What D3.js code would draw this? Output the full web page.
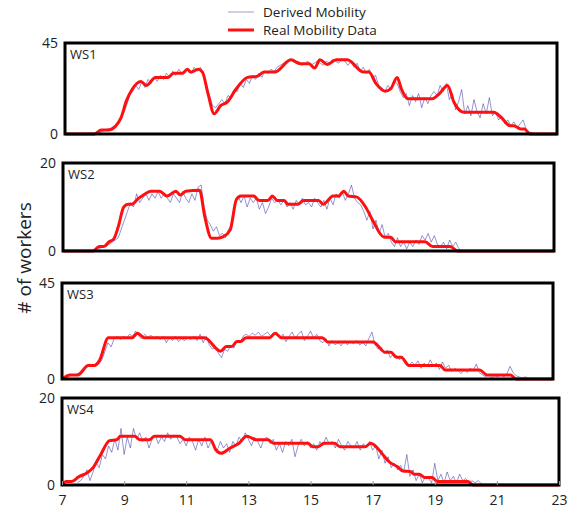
<!DOCTYPE html>
<html>
<head>
<meta charset="utf-8">
<script src="https://cdn.jsdelivr.net/npm/d3@7"></script>
<style>
  body { margin: 0; background: #fff; }
  text { font-family: "Open Sans", "Noto Sans", sans-serif; fill: #222; }
</style>
</head>
<body>
<svg id="chart" width="568" height="512"></svg>
<script>
// panel names and y maxima
const panelNames = ["WS1", "WS2", "WS3", "WS4"];
const panelMax = [45, 20, 45, 20];
const xTicks = [7, 9, 11, 13, 15, 17, 19, 21, 23];
const legendLabels = ["Derived Mobility", "Real Mobility Data"];

// real mobility data (red), hour / workers
const realHours1 = [7, 7.96, 8.18, 8.41, 8.65, 8.82, 9.0, 9.18, 9.47, 9.65, 9.94, 10.35, 10.53, 10.82, 10.98, 11.09, 11.33, 11.47, 11.65, 11.85, 12.06, 12.29, 12.53, 12.94, 13.24, 13.47, 13.82, 14.35, 14.65, 14.94, 15.12, 15.29, 15.53, 15.82, 16.18, 16.71, 16.88, 17.12, 17.41, 17.59, 17.8, 17.94, 18.15, 18.94, 19.18, 19.44, 19.65, 19.98, 20.94, 21.18, 21.47, 21.59, 21.82, 21.94, 22.12, 23];
const realValues1 = [0, 0, 2, 2, 4, 8, 16.5, 22, 26, 24, 28, 28, 30, 30, 32, 30.6, 32, 30.6, 20, 10, 14, 16, 21.5, 28, 28.5, 30.6, 30.6, 36.7, 34.7, 34.7, 32.6, 36.7, 34.4, 36.7, 36.7, 30.6, 30.6, 24.8, 21.2, 22.3, 28, 22.3, 17.4, 17.4, 20, 24, 15.7, 10.7, 10.7, 8.3, 4.1, 4.1, 2.5, 2.5, 0, 0];

const realHours2 = [7, 7.98, 8.18, 8.33, 8.5, 8.65, 8.8, 8.98, 9.12, 9.24, 9.45, 9.62, 9.86, 10.15, 10.39, 10.68, 10.82, 11.0, 11.45, 11.62, 11.84, 12.04, 12.21, 12.45, 12.65, 12.8, 13.21, 13.39, 13.68, 13.82, 13.98, 14.21, 14.33, 14.65, 14.84, 15.33, 15.48, 15.8, 15.98, 16.15, 16.29, 16.56, 16.86, 17.09, 17.45, 17.68, 17.84, 18.8, 19.04, 19.62, 19.86, 23];
const realValues2 = [0, 0, 1, 1, 2.1, 2.7, 5.5, 10, 10.6, 10.6, 11.9, 12.7, 13.6, 13.6, 12.5, 13.6, 12.7, 13.6, 13.8, 7.8, 2.9, 2.9, 3.2, 4.8, 11.7, 12.5, 12.5, 11.5, 11.5, 12.5, 11.5, 11.5, 10.6, 10.6, 11.5, 11.5, 10.6, 12.5, 12.5, 13.6, 12.5, 12.3, 10, 7, 3.2, 3.1, 2.1, 2.1, 1, 1, 0, 0];

const realHours3 = [7, 7.27, 7.51, 7.86, 8.06, 8.22, 8.51, 9.28, 9.46, 9.69, 11.64, 12.17, 12.35, 12.53, 12.7, 12.82, 13.0, 13.77, 13.94, 14.16, 15.48, 15.66, 17.13, 17.54, 17.72, 17.9, 18.05, 18.31, 19.32, 19.49, 20.61, 20.85, 21.62, 21.8, 23];
const realValues3 = [0, 1.9, 1.9, 6.3, 6.3, 8.6, 19.3, 19.3, 21.5, 19.3, 19.3, 13, 15.2, 15.2, 17.6, 17.6, 19.3, 19.3, 21.5, 19.3, 19.3, 17.4, 17.4, 12.5, 12.5, 10.2, 10.2, 6.3, 6.3, 4.2, 4.2, 1.9, 1.9, 0, 0];

const realHours4 = [7, 7.14, 7.31, 7.54, 7.83, 8.0, 8.24, 8.53, 8.76, 8.88, 9.34, 9.51, 9.81, 9.98, 10.79, 10.97, 11.78, 11.95, 12.12, 12.41, 12.7, 12.94, 13.11, 13.23, 13.63, 13.81, 14.91, 15.08, 15.25, 15.43, 15.77, 15.95, 16.76, 16.94, 17.05, 17.34, 17.52, 17.8, 17.98, 18.21, 18.33, 18.5, 18.68, 18.91, 19.08, 20.07, 20.24, 23];
const realValues4 = [0, 0.8, 0.8, 1.9, 2.9, 4, 6.9, 10.2, 10.4, 11.2, 11.2, 10.4, 10.4, 11.2, 11.2, 10.4, 10.4, 8.1, 7.3, 8.5, 9.6, 11.2, 10.8, 10.4, 10.4, 9.6, 9.6, 8.8, 8.8, 9.6, 9.6, 8.8, 8.8, 9.6, 9.2, 6.9, 5.4, 4.2, 3.2, 3.1, 2.5, 2.5, 1.7, 1.7, 0.8, 0.8, 0, 0];

// derived mobility (blue), one value every 0.1 h from the start hour
const derivedStep = 0.1;
const derivedStart = [8.0, 8.0, 7.1, 7.5];
const derived1 = [0, 0.5, 1, 2, 2.5, 3, 4, 4.5, 7, 10,
  14, 19, 21, 24, 22, 26, 23, 27, 25, 28,
  26, 29, 27, 30, 28, 31, 29, 32, 30, 31,
  32, 30, 33, 31, 33, 30, 24, 19, 14, 13,
  15, 17, 15, 19, 18, 22, 21, 25, 23, 27,
  25, 29, 27, 30, 28, 31, 30, 32, 31, 33,
  34, 35, 36, 37, 36, 35, 36, 34, 35, 36,
  34, 35, 36, 35, 34, 36, 35, 37, 36, 35,
  37, 36, 34, 36, 33, 35, 31, 33, 30, 32,
  27, 29, 24, 23, 21, 24, 22, 26, 25, 21,
  18, 20, 14, 19, 16, 20, 13, 18, 15, 19,
  21, 19, 24, 21, 25, 17, 20, 12, 16, 22,
  10, 14, 9, 17, 11, 8, 15, 10, 18, 9,
  11, 7, 9, 5, 7, 4, 6, 3, 5, 7,
  2, 1, 0.5, 0];
const derived2 = [0, 0.5, 0.5, 1, 1, 1.5, 2, 2.5, 3, 5,
  7, 9, 11, 10, 13, 11, 12, 13, 11.5, 13,
  12, 13.5, 12, 13, 12, 11, 13, 12, 11, 13.5,
  12, 11, 13, 11.5, 14.5, 15, 10, 7, 6, 4.5,
  5.5, 3.5, 4, 3, 5, 6, 11, 12.5, 11, 12.5,
  10, 12, 11, 12, 9.5, 11, 8.5, 10, 12, 11,
  11.5, 10.5, 11.5, 10, 11, 9.5, 11.5, 10.5, 12, 10.5,
  11, 10, 12, 11, 10, 11.5, 9.5, 12, 10.5, 13,
  12, 13.5, 11.5, 13, 15, 12, 11, 10.5, 9, 7,
  9, 5, 7, 4, 6, 3, 4, 2, 1, 3,
  1, 2, 0.5, 2, 1, 2.5, 1.5, 3.5, 2.5, 4,
  2, 3.5, 1.5, 1, 2, 0.5, 2.5, 1, 2, 0.5, 0];
const derived3 = [0.5, 1, 2, 1.5, 2.5, 3, 5, 6.5, 7, 6,
  7.5, 7, 9, 13, 17, 15, 19, 20, 18.5, 20,
  19, 21, 20, 22.5, 20, 19, 21, 19.5, 20.5,
  19, 20, 18.5, 20, 17, 19.5, 18, 20, 17.5, 19,
  18, 19.5, 18.5, 20, 18, 21, 17, 20, 16, 14,
  15, 12, 10, 14, 13, 16, 14.5, 18, 17, 20,
  21, 20, 21.5, 20.5, 22, 20, 21, 22, 20, 21.5,
  22, 19, 21, 17.5, 20, 22, 19, 21, 22.5, 18,
  20, 22.5, 19, 21, 18, 17, 19, 15.5, 18, 16,
  17, 15.5, 18, 16, 17.5, 16.5, 18, 16, 17, 15.5,
  19, 22, 16, 14, 15, 12, 13.5, 10, 12, 11,
  9, 10.5, 8, 6, 8, 6.5, 8.5, 5, 7.5, 6,
  9, 6, 7.5, 4.5, 8, 5, 6.5, 3.5, 5, 4,
  2.5, 4.5, 3, 5, 4, 7, 3, 2, 1, 2,
  0.5, 1.5, 1, 2, 1, 2.5, 6, 3, 1.5, 1,
  0.5, 1, 0.3, 0];
const derived4 = [0.5, 1, 2, 3.5, 1, 3, 5, 4, 7, 6,
  9, 7.5, 10.5, 8, 13, 7, 11, 8.5, 13, 10.5,
  12, 10, 11, 8.5, 10.5, 11.5, 9.5, 11, 10, 12,
  10.5, 11.5, 11, 9.5, 10.5, 9, 11, 10, 8, 10.5,
  9, 11, 8.5, 10, 9, 8, 10, 8.5, 9.5, 7.5,
  10, 9, 11, 10, 12, 10.5, 9, 11, 10, 8.5,
  10.5, 11, 9.5, 10.5, 8, 9.5, 7.5, 10, 9, 10.5,
  6.5, 9, 10.5, 9, 10, 8.5, 9.5, 8, 10, 9,
  11, 9.5, 10, 8.5, 10.5, 9, 8, 10, 9, 8.5,
  10, 8, 9.5, 8.5, 10, 8, 9, 6, 8, 5,
  6.5, 4, 5, 3.5, 4.5, 3, 7, 2, 3.5, 1,
  2.5, 0.5, 2, 1.5, 0.5, 5, 1, 2.5, 0.5, 3,
  1, 2, 0.5, 2.5, 1, 1.5, 0.5, 1, 0.5, 1, 0.3, 0];

const realHours = [realHours1, realHours2, realHours3, realHours4];
const realValues = [realValues1, realValues2, realValues3, realValues4];
const derived = [derived1, derived2, derived3, derived4];

// box of every panel: left, right, top, bottom
const boxes = [
  [65, 557, 43, 134],
  [63, 554, 163, 251],
  [62, 553, 283, 379],
  [62, 559, 398, 485]
];

const svg = d3.select("#chart");
const blue = "#3030a8";
const red = "#ff1010";

panelNames.forEach((name, i) => {
  const [x0, x1, y0, y1] = boxes[i];
  const x = d3.scaleLinear().domain([7, 23]).range([x0, x1]);
  const y = d3.scaleLinear().domain([0, panelMax[i]]).range([y1, y0]);
  const g = svg.append("g");

  // derived mobility
  const dPts = derived[i].map((v, k) => [derivedStart[i] + k * derivedStep, v]);
  g.append("path")
    .attr("d", d3.line().x((d) => x(d[0])).y((d) => y(d[1]))(dPts))
    .attr("fill", "none")
    .attr("stroke", blue)
    .attr("stroke-opacity", 0.65)
    .attr("stroke-width", 0.8);

  // real data
  const rPts = realHours[i].map((h, k) => [h, realValues[i][k]]);
  g.append("path")
    .attr("d", d3.line().x((d) => x(d[0])).y((d) => y(d[1])).curve(d3.curveMonotoneX)(rPts))
    .attr("fill", "none")
    .attr("stroke", red)
    .attr("stroke-width", 3)
    .attr("stroke-linejoin", "round");

  // frame
  g.append("rect")
    .attr("x", x0).attr("y", y0)
    .attr("width", x1 - x0).attr("height", y1 - y0)
    .attr("fill", "none")
    .attr("stroke", "#000")
    .attr("stroke-width", 3);

  g.append("text")
    .attr("x", x0 + 5).attr("y", y0 + 16)
    .attr("font-size", 13)
    .text(name);

  // y ticks: only 0 and max
  const ya = g.append("g")
    .attr("transform", `translate(${x0 - 7},0)`)
    .call(d3.axisLeft(y).tickValues([0, panelMax[i]]).tickSize(0).tickPadding(0));
  ya.select(".domain").remove();
  ya.selectAll("text").attr("font-size", 14).attr("font-family", "Open Sans, sans-serif").attr("fill", "#222");

  if (i === 3) {
    const xa = g.append("g")
      .attr("transform", `translate(0,${y1})`)
      .call(d3.axisBottom(x).tickValues(xTicks).tickSize(-4).tickPadding(10));
    xa.select(".domain").remove();
    xa.selectAll("line").attr("stroke", "#999");
    xa.selectAll("text").attr("font-size", 14).attr("font-family", "Open Sans, sans-serif").attr("fill", "#222");
  }
});

// y title
svg.append("text")
  .attr("transform", "translate(31,258) rotate(-90)")
  .attr("text-anchor", "middle")
  .attr("font-size", 19)
  .text("# of workers");

// legend
const legend = svg.append("g");
legendLabels.forEach((lab, k) => {
  const ly = 12 + k * 18;
  legend.append("line")
    .attr("x1", 228).attr("x2", 254).attr("y1", ly).attr("y2", ly)
    .attr("stroke", k === 0 ? blue : red)
    .attr("stroke-opacity", k === 0 ? 0.6 : 1)
    .attr("stroke-width", k === 0 ? 0.8 : 3);
  legend.append("text")
    .attr("x", 263).attr("y", ly + 5)
    .attr("font-size", 13.5)
    .text(lab);
});
</script>
</body>
</html>
